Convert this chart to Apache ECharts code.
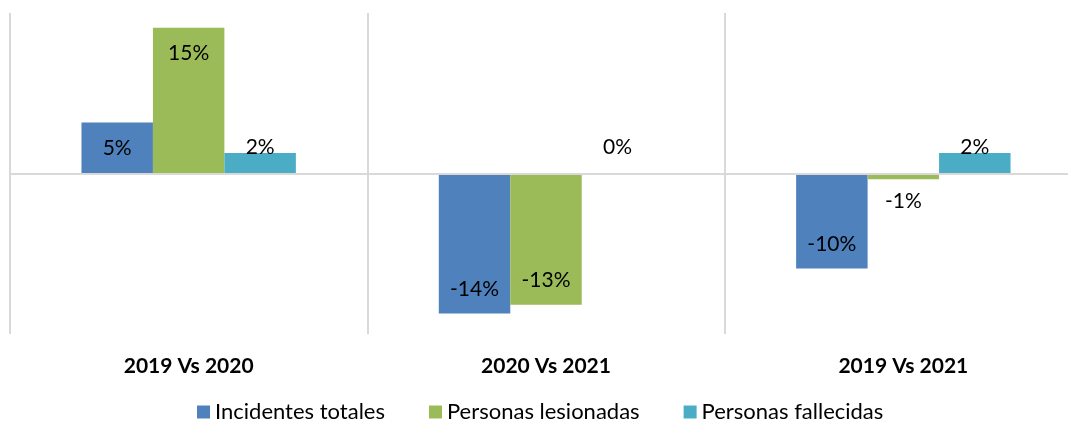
<!DOCTYPE html>
<html>
<head>
<meta charset="utf-8">
<script src="https://cdn.jsdelivr.net/npm/echarts@6/dist/echarts.min.js"></script>
<style>
    html, body { margin: 0; padding: 0; background: #fff; }
    #chart { width: 1068px; height: 421px; }
</style>
</head>
<body>
<div id="chart"></div>
<script>
var categories = ["2019 Vs 2020", "2020 Vs 2021", "2019 Vs 2021"];
var seriesNames = ["Incidentes totales", "Personas lesionadas", "Personas fallecidas"];
var incidentesTotales = [5.2, -14.3, -9.7];
var personasLesionadas = [14.9, -13.4, -0.6];
var personasFallecidas = [2.1, 0.0, 2.1];
var colors = ["#4F81BD", "#9BBB59", "#4BACC6"];

// etiqueta dentro del extremo, o fuera si la barra es corta
function labelFor(v) {
    if (v >= 4) return { position: "insideTop", distance: 15 };
    if (v <= -4) return { position: "insideBottom", distance: 14 };
    if (v > 0.5) return { position: "top", distance: -5 };
    if (v < -0.3) return { position: "bottom", distance: 11 };
    return { position: "top", distance: 16 };
}

function toData(arr) {
    return arr.map(function (v) {
        return { value: v, label: labelFor(v) };
    });
}

function makeSeries(name, arr, color, i) {
    var s = {
        name: name,
        type: "bar",
        barGap: "0%",
        barCategoryGap: "40%",
        data: toData(arr),
        itemStyle: { color: color },
        label: {
            show: true,
            color: "#000",
            fontFamily: "Lato",
            fontSize: 21,
            formatter: function (p) {
                return Math.round(p.value) + "%";
            }
        }
    };
    if (i == 0) {
        s.markLine = {
            silent: true,
            symbol: "none",
            label: { show: false },
            lineStyle: { color: "#D9D9D9", type: "solid", width: 2 },
            data: [{ yAxis: 0 }]
        };
    }
    return s;
}

var myChart = echarts.init(document.getElementById("chart"));
var option = {
    animation: false,
    color: colors,
    grid: { left: 10, top: 13, width: 1072, height: 321, containLabel: false, outerBoundsMode: "none" },
    legend: {
        top: 396,
        left: 192,
        icon: "rect",
        itemWidth: 13,
        itemHeight: 13,
        itemGap: 44,
        textStyle: { fontFamily: "Lato", fontSize: 22, color: "#000" },
        data: seriesNames
    },
    xAxis: {
        type: "category",
        data: categories,
        axisLine: { show: false },
        axisTick: { show: false },
        splitLine: { show: true, lineStyle: { color: "#D9D9D9", width: 2 } },
        axisLabel: {
            margin: 22,
            color: "#000",
            fontFamily: "Lato",
            fontWeight: "bold",
            fontSize: 21
        }
    },
    yAxis: {
        type: "value",
        min: -16.4,
        max: 16.4,
        show: false,
        splitLine: { show: false }
    },
    series: [
        makeSeries(seriesNames[0], incidentesTotales, colors[0], 0),
        makeSeries(seriesNames[1], personasLesionadas, colors[1], 1),
        makeSeries(seriesNames[2], personasFallecidas, colors[2], 2)
    ]
};
myChart.setOption(option);
</script>
</body>
</html>
